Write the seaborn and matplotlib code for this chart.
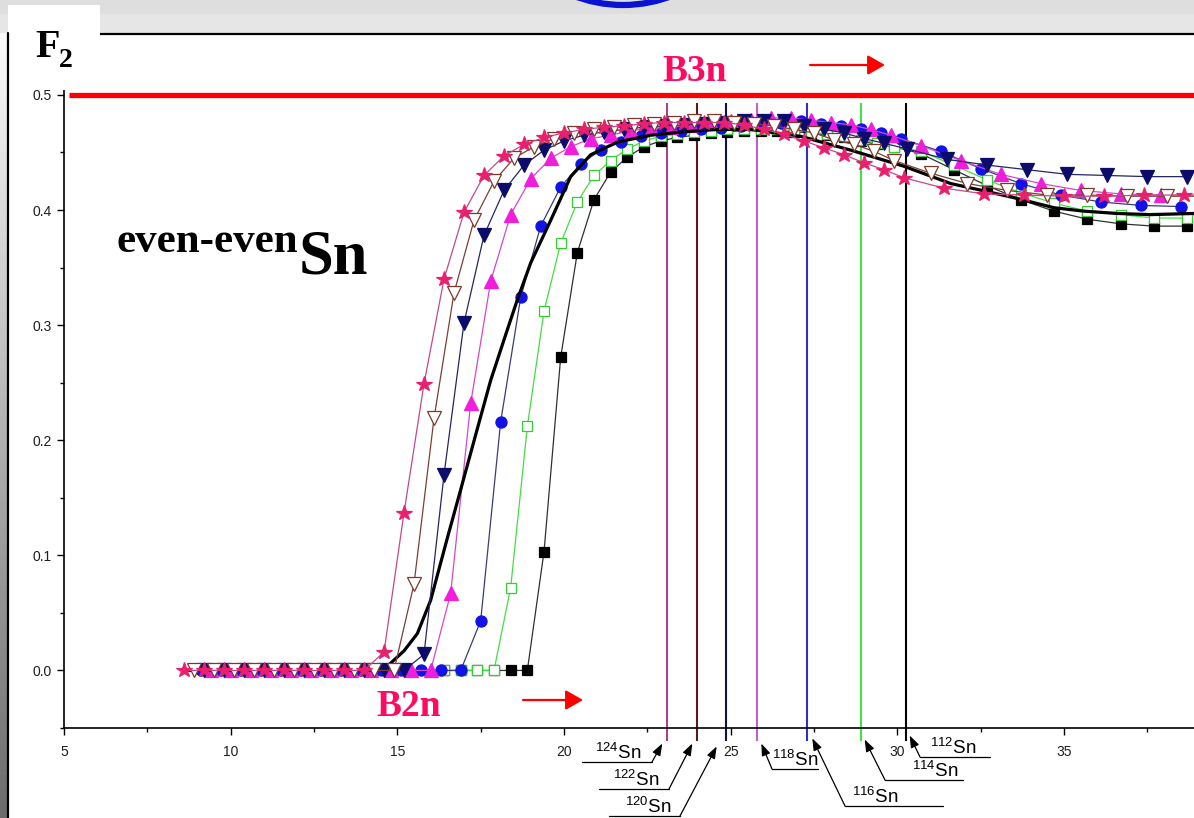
import matplotlib
matplotlib.use("Agg")
import matplotlib.pyplot as plt
from matplotlib.patches import Rectangle, Circle
from matplotlib.lines import Line2D
from matplotlib.ticker import MultipleLocator, FormatStrFormatter
import numpy as np
import seaborn as sns

# ---------------- data: F2 versus energy for even-even Sn isotopes ----------------
x_124 = [8.6, 9.2, 9.8, 10.4, 11.0, 11.6, 12.2, 12.8, 13.4, 14.0, 14.6, 15.2, 15.8, 16.4, 17.0,
         17.6, 18.2, 18.8, 19.4, 20.0, 20.6, 21.2, 21.8, 22.4, 23.0, 23.6, 24.2, 24.8, 25.4, 26.0,
         26.6, 27.2, 27.8, 28.4, 29.0, 29.6, 30.2, 31.4, 32.6, 33.8, 35.0, 36.2, 37.4, 38.6]
f_124 = [0, 0, 0, 0, 0, 0, 0, 0, 0, 0, 0.016, 0.137, 0.249, 0.340, 0.398,
         0.430, 0.447, 0.457, 0.463, 0.467, 0.470, 0.472, 0.473, 0.475, 0.476, 0.476, 0.476, 0.476, 0.474, 0.470,
         0.466, 0.460, 0.454, 0.448, 0.441, 0.435, 0.428, 0.419, 0.414, 0.413, 0.412, 0.412, 0.413, 0.413]

x_122 = [8.9, 9.5, 10.1, 10.7, 11.3, 11.9, 12.5, 13.1, 13.7, 14.3, 14.9, 15.5, 16.1, 16.7, 17.3,
         17.9, 18.5, 19.1, 19.7, 20.3, 20.9, 21.5, 22.1, 22.7, 23.3, 23.9, 24.5, 25.1, 25.7, 26.3,
         26.9, 27.5, 28.1, 28.7, 29.3, 29.9, 31.0, 32.1, 33.3, 34.5, 35.7, 36.9, 38.1, 39.3]
f_122 = [0, 0, 0, 0, 0, 0, 0, 0, 0, 0, 0, 0.075, 0.219, 0.328, 0.391,
         0.425, 0.445, 0.455, 0.462, 0.467, 0.470, 0.472, 0.474, 0.475, 0.476, 0.477, 0.477, 0.476, 0.475, 0.473,
         0.470, 0.467, 0.461, 0.457, 0.451, 0.443, 0.432, 0.423, 0.417, 0.413, 0.413, 0.412, 0.412, 0.412]

x_120 = [9.2, 9.8, 10.4, 11.0, 11.6, 12.2, 12.8, 13.4, 14.0, 14.6, 15.2, 15.8, 16.4, 17.0, 17.6,
         18.2, 18.8, 19.4, 20.0, 20.6, 21.2, 21.8, 22.4, 23.0, 23.6, 24.2, 24.8, 25.4, 26.0, 26.6,
         27.2, 27.8, 28.4, 29.0, 29.6, 30.3, 31.5, 32.7, 33.9, 35.1, 36.3, 37.5, 38.7]
f_120 = [0, 0, 0, 0, 0, 0, 0, 0, 0, 0, 0, 0.014, 0.170, 0.302, 0.378,
         0.417, 0.439, 0.452, 0.460, 0.465, 0.468, 0.470, 0.472, 0.473, 0.474, 0.475, 0.476, 0.477, 0.477, 0.477,
         0.473, 0.470, 0.467, 0.462, 0.458, 0.453, 0.444, 0.439, 0.435, 0.431, 0.430, 0.429, 0.429]

x_118 = [9.4, 10.0, 10.6, 11.2, 11.8, 12.4, 13.0, 13.6, 14.2, 14.8, 15.4, 16.0, 16.6, 17.2, 17.8,
         18.4, 19.0, 19.6, 20.2, 20.8, 21.4, 22.0, 22.6, 23.2, 23.8, 24.4, 25.0, 25.6, 26.2, 26.8,
         27.4, 28.0, 28.6, 29.2, 29.8, 30.7, 31.9, 33.1, 34.3, 35.5, 36.7, 37.9, 39.1]
f_118 = [0, 0, 0, 0, 0, 0, 0, 0, 0, 0, 0, 0, 0.067, 0.232, 0.338,
         0.396, 0.427, 0.445, 0.455, 0.462, 0.465, 0.469, 0.471, 0.472, 0.474, 0.476, 0.477, 0.478, 0.480, 0.480,
         0.478, 0.476, 0.474, 0.470, 0.465, 0.456, 0.443, 0.431, 0.423, 0.417, 0.414, 0.413, 0.413]

x_116 = [9.1, 9.7, 10.3, 10.9, 11.5, 12.1, 12.7, 13.3, 13.9, 14.5, 15.1, 15.7, 16.3, 16.9, 17.5,
         18.1, 18.7, 19.3, 19.9, 20.5, 21.1, 21.7, 22.3, 22.9, 23.5, 24.1, 24.7, 25.3, 25.9, 26.5,
         27.1, 27.7, 28.3, 28.9, 29.5, 30.1, 31.3, 32.5, 33.7, 34.9, 36.1, 37.3, 38.5]
f_116 = [0, 0, 0, 0, 0, 0, 0, 0, 0, 0, 0, 0, 0, 0, 0.043,
         0.216, 0.324, 0.386, 0.420, 0.440, 0.452, 0.459, 0.464, 0.467, 0.469, 0.470, 0.471, 0.473, 0.475, 0.476,
         0.477, 0.475, 0.473, 0.470, 0.467, 0.462, 0.451, 0.436, 0.423, 0.413, 0.407, 0.404, 0.403]

x_114 = [16.4, 16.9, 17.4, 17.9, 18.4, 18.9, 19.4, 19.9, 20.4, 20.9, 21.4, 21.9, 22.4, 22.9, 23.4,
         23.9, 24.4, 24.9, 25.4, 25.9, 26.4, 26.9, 27.4, 27.9, 28.4, 28.9, 29.4, 29.9, 30.7, 31.7,
         32.7, 33.7, 34.7, 35.7, 36.7, 37.7, 38.7]
f_114 = [0, 0, 0, 0, 0.072, 0.212, 0.312, 0.371, 0.407, 0.430, 0.443, 0.453, 0.460, 0.464, 0.466,
         0.468, 0.469, 0.470, 0.470, 0.470, 0.470, 0.469, 0.468, 0.466, 0.464, 0.461, 0.458, 0.455, 0.451, 0.439,
         0.426, 0.415, 0.406, 0.399, 0.396, 0.393, 0.393]

x_112 = [16.4, 16.9, 17.4, 17.9, 18.4, 18.9, 19.4, 19.9, 20.4, 20.9, 21.4, 21.9, 22.4, 22.9, 23.4,
         23.9, 24.4, 24.9, 25.4, 25.9, 26.4, 26.9, 27.4, 27.9, 28.4, 28.9, 29.4, 29.9, 30.7, 31.7,
         32.7, 33.7, 34.7, 35.7, 36.7, 37.7, 38.7]
f_112 = [0, 0, 0, 0, 0, 0, 0.103, 0.272, 0.363, 0.409, 0.433, 0.446, 0.455, 0.460, 0.463,
         0.465, 0.467, 0.468, 0.469, 0.469, 0.469, 0.468, 0.467, 0.465, 0.463, 0.460, 0.457, 0.455, 0.449, 0.435,
         0.421, 0.409, 0.399, 0.392, 0.388, 0.386, 0.386]

# smooth reference curve drawn as a thick black line
x_ref = [8.6, 14.0, 14.6, 15.2, 15.6, 16.0, 16.5, 16.9, 17.4, 17.8, 18.3, 18.6, 19.0, 19.6, 20.2,
         20.8, 21.6, 22.6, 23.6, 24.6, 25.6, 27.1, 28.6, 30.2, 31.6, 32.7, 33.6, 34.7, 35.6, 36.6,
         37.6, 38.9]
f_ref = [0, 0, 0.001, 0.017, 0.032, 0.061, 0.115, 0.157, 0.210, 0.252, 0.296, 0.322, 0.354, 0.391, 0.429,
         0.448, 0.459, 0.465, 0.468, 0.470, 0.470, 0.464, 0.452, 0.438, 0.423, 0.416, 0.410, 0.402, 0.399, 0.397,
         0.396, 0.397]

# separation-energy positions (vertical markers) for each isotope
isotopes = ["124", "122", "120", "118", "116", "114", "112"]
thresholds = [23.1, 24.0, 24.85, 25.8, 27.3, 28.9, 30.25]
f2_level = 0.5

# ---------------- styling ----------------
sns.set_theme(style="ticks")
plt.rcParams["font.family"] = ["Liberation Sans", "DejaVu Sans"]
plt.rcParams["mathtext.fontset"] = "custom"
plt.rcParams["mathtext.rm"] = "Liberation Sans"
plt.rcParams["mathtext.it"] = "Liberation Sans:italic"
plt.rcParams["mathtext.bf"] = "Liberation Sans:bold"

W, H = 1194, 818
fig = plt.figure(figsize=(W / 100, H / 100), dpi=100)
fig.patch.set_facecolor("white")


def fx(px):
    return px / W


def fy(py):
    return 1 - py / H


# slide frame: grey header band, rule, white title box, shaded left strip, blue ring
fig.add_artist(Rectangle((0, fy(14)), 1, 14 / H, transform=fig.transFigure,
                         facecolor="#dedede", edgecolor="none", zorder=0))
fig.add_artist(Rectangle((0, fy(33)), 1, 19 / H, transform=fig.transFigure,
                         facecolor="#e6e6e6", edgecolor="none", zorder=0))
fig.add_artist(Line2D([fx(100), 1], [fy(33.5), fy(33.5)], transform=fig.transFigure,
                      color="black", lw=1.6, zorder=1))
fig.add_artist(Rectangle((fx(8), fy(90)), fx(100) - fx(8), fy(5) - fy(90), transform=fig.transFigure,
                         facecolor="white", edgecolor="none", zorder=1))
strip = fig.add_axes([0, 0, fx(7), fy(33)])
grad = np.linspace(0.98, 0.42, 256).reshape(-1, 1)
strip.imshow(grad, aspect="auto", cmap="gray", vmin=0, vmax=1)
strip.set_axis_off()
fig.add_artist(Line2D([fx(7.5), fx(7.5)], [0, fy(33)], transform=fig.transFigure,
                      color="black", lw=1.6, zorder=2))
fig.add_artist(Circle((6.23, (H + 131) / 100), 1.36, transform=fig.dpi_scale_trans,
                      facecolor="none", edgecolor="#0a14d0", lw=4.5, zorder=2))

# main axes
ax = fig.add_axes([fx(64), 1 - 728 / H, 1 - fx(64), (728 - 88) / H])
ax.set_facecolor("white")
ax.set_xlim(5, 38.9)
ax.set_ylim(-0.05, 0.506)

ax.hlines(f2_level, 5.15, 38.9, color="#ff0000", lw=3.8, zorder=2)

line_colors = ["#a8448f", "#5a1a1a", "#10104f", "#c062c8", "#2f2fc4", "#44e044", "#000000"]
ax.vlines(thresholds, -0.061, 0.493, colors=line_colors, lw=1.5, clip_on=False, zorder=2)

series = [
    (x_112, f_112, dict(line="#303030", marker="s", ms=7, mfc="#000000", mec="#000000", z=3)),
    (x_114, f_114, dict(line="#44dd44", marker="s", ms=7, mfc="white", mec="#33cc33", z=3.1)),
    (x_116, f_116, dict(line="#3a3a7a", marker="o", ms=8, mfc="#1212e6", mec="#1212e6", z=3.2)),
    (x_118, f_118, dict(line="#d24ac8", marker="^", ms=9.5, mfc="#f01edc", mec="#f01edc", z=3.3)),
    (x_120, f_120, dict(line="#262660", marker="v", ms=9.5, mfc="#0c0c6a", mec="#0c0c6a", z=3.4)),
    (x_122, f_122, dict(line="#7a4034", marker="v", ms=9.5, mfc="white", mec="#7a3a2a", z=3.5)),
    (x_124, f_124, dict(line="#c24a8c", marker="*", ms=11.5, mfc="#e8206e", mec="#e8206e", z=3.6)),
]
for xs, fs, st in series:
    sns.lineplot(x=xs, y=fs, ax=ax, color=st["line"], lw=0.9, marker=st["marker"],
                 markersize=st["ms"], markerfacecolor=st["mfc"], markeredgecolor=st["mec"],
                 markeredgewidth=0.9, estimator=None, sort=False, legend=False, zorder=st["z"])

sns.lineplot(x=x_ref, y=f_ref, ax=ax, color="black", lw=2.3, estimator=None, sort=False,
             legend=False, zorder=3.35)

# axes cosmetics
for side in ("top", "right"):
    ax.spines[side].set_visible(False)
for side in ("left", "bottom"):
    ax.spines[side].set_color("black")
    ax.spines[side].set_linewidth(1.2)
ax.xaxis.set_major_locator(MultipleLocator(5))
ax.xaxis.set_minor_locator(MultipleLocator(2.5))
ax.yaxis.set_major_locator(MultipleLocator(0.1))
ax.yaxis.set_minor_locator(MultipleLocator(0.05))
ax.yaxis.set_major_formatter(FormatStrFormatter("%.1f"))
ax.tick_params(which="major", direction="out", length=5, width=1.0, color="black",
               labelsize=10, labelcolor="#1e1e1e")
ax.tick_params(which="minor", direction="out", length=3, width=1.0, color="black")
ax.tick_params(axis="x", which="major", pad=7)
ax.tick_params(axis="y", which="major", pad=4)
ax.set_xlabel("")
ax.set_ylabel("")
ax.grid(False)

# titles and labels
serif = ["Liberation Serif", "DejaVu Serif"]
fig.text(fx(35), fy(57), "F", family=serif, weight="bold", fontsize=29, color="black", va="baseline")
fig.text(fx(59), fy(67), "2", family=serif, weight="bold", fontsize=20, color="black", va="baseline")
fig.text(fx(117), fy(252), "even-even", family=serif, weight="bold", fontsize=31, color="black",
         va="baseline")
fig.text(fx(299), fy(273), "Sn", family=serif, weight="bold", fontsize=45, color="black", va="baseline")
fig.text(fx(662), fy(81), "B3n", family=serif, weight="bold", fontsize=27, color="#ff0a62",
         va="baseline")
fig.text(fx(376), fy(716), "B2n", family=serif, weight="bold", fontsize=27, color="#ff0a62",
         va="baseline")

red_arrow = dict(arrowstyle="-|>,head_length=0.7,head_width=0.4", color="#ff0000", lw=1.6,
                 mutation_scale=15, shrinkA=0, shrinkB=0)
ax.annotate("", xy=(885, H - 65), xytext=(810, H - 65), xycoords="figure pixels",
            textcoords="figure pixels", arrowprops=red_arrow, annotation_clip=False)
ax.annotate("", xy=(583, H - 700), xytext=(523, H - 700), xycoords="figure pixels",
            textcoords="figure pixels", arrowprops=red_arrow, annotation_clip=False)

# isotope call-outs under the axis: text left, baseline, underline span, tail end, tip offset/height
callouts = [
    (595, 759, 582, 652, 762, "right", -0.15, -0.0635),
    (613, 786, 599, 669, 789, "right", -0.15, -0.0635),
    (625, 813, 609, 680, 816, "right", -0.27, -0.066),
    (772, 766, 772, 818, 769, "left", 0.12, -0.0635),
    (852, 803, 845, 943, 806, "left", 0.15, -0.059),
    (912, 777, 885, 963, 780, "left", 0.12, -0.060),
    (930, 754, 920, 990, 757, "left", 0.12, -0.0565),
]
black_arrow = dict(arrowstyle="-|>,head_length=0.6,head_width=0.22", color="black", lw=0.9,
                   mutation_scale=12, shrinkA=0, shrinkB=0)
for iso, xt, (tx, tb, u0, u1, uy, side, dx, ty) in zip(isotopes, thresholds, callouts):
    fig.text(fx(tx), fy(tb), "$^{%s}$Sn" % iso, fontsize=13.5, color="black", va="baseline")
    fig.add_artist(Line2D([fx(u0), fx(u1)], [fy(uy), fy(uy)], transform=fig.transFigure,
                          color="black", lw=0.9))
    tail = u1 if side == "right" else u0
    ax.annotate("", xy=(xt + dx, ty), xycoords="data", xytext=(tail, H - uy),
                textcoords="figure pixels", arrowprops=black_arrow, annotation_clip=False)

fig.savefig("out.png", dpi=100, facecolor=fig.get_facecolor())
